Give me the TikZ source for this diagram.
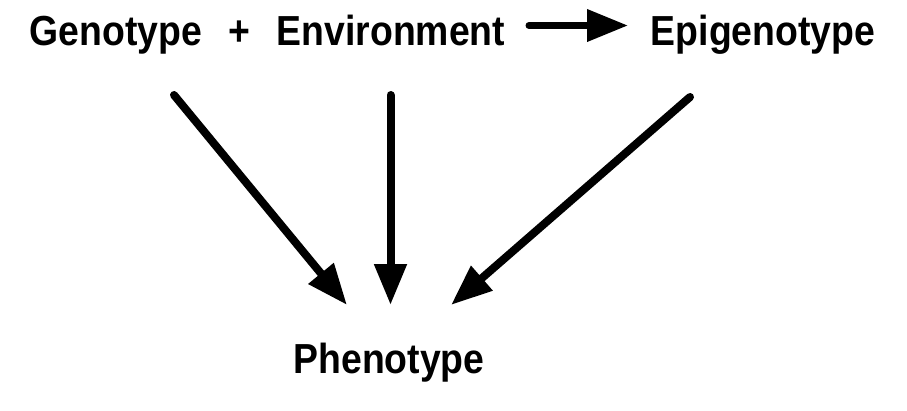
\documentclass[tikz,border=0pt]{standalone}
\usepackage{fontspec}
\setmainfont{Liberation Sans}
\usetikzlibrary{arrows.meta}
\begin{document}
\begin{tikzpicture}[x=1pt,y=-1pt,
  term/.style={font=\fontsize{42}{48}\selectfont\bfseries, inner sep=0pt, anchor=base, xscale=0.89},
  bigarrow/.style={line width=8pt, line cap=round, -{Triangle[length=41pt,width=31pt]}}]

\useasboundingbox (0,0) rectangle (907,410);

\node[term] (geno) at (116,45) {Genotype};
\node[term] (plus) at (239,45) {+};
\node[term] (env) at (391,45) {Environment};
\node[term] (epi) at (763,45) {Epigenotype};
\node[term] (pheno) at (389,373) {Phenotype};

\coordinate (envright) at (529,25.5);
\coordinate (epileft) at (628,25.5);
\coordinate (genoout) at (174,95);
\coordinate (envout) at (390.5,95);
\coordinate (epiout) at (690,97);
\coordinate (phenoleft) at (347,305);
\coordinate (phenomid) at (390.5,305);
\coordinate (phenoright) at (451,305);

\draw[line width=7pt, line cap=round, -{Triangle[length=41pt,width=31pt]}] (envright) -- (epileft);

\draw[bigarrow] (genoout) -- (phenoleft);
\draw[bigarrow] (envout) -- (phenomid);
\draw[bigarrow] (epiout) -- (phenoright);

\end{tikzpicture}
\end{document}
